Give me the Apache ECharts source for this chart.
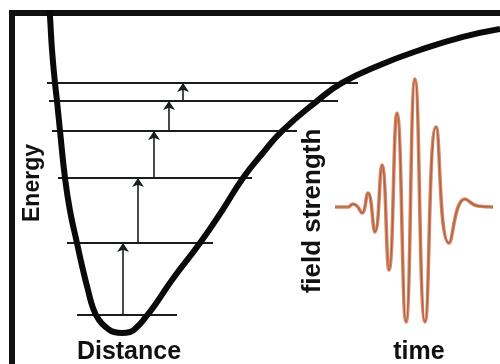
<!DOCTYPE html>
<html>
<head>
<meta charset="utf-8">
<script src="https://cdn.jsdelivr.net/npm/echarts@6/dist/echarts.min.js"></script>
<style>html,body{margin:0;padding:0;background:#fff;}#c{width:500px;height:364px;}</style>
</head>
<body>
<div id="c"></div>
<script>
// Potential energy curve (Distance, Energy)
var potentialDistance = [0.758, 0.779, 0.820, 0.881, 0.922, 0.984, 1.086, 1.189, 1.332, 1.455, 1.557, 1.660, 1.783, 1.947, 2.090, 2.254, 2.418, 2.561, 2.725, 2.930, 3.279, 3.852, 4.303, 4.734, 5.123, 5.533, 6.250, 6.762, 7.541, 8.361, 9.242, 10.0];
var potentialEnergy   = [10.25, 9.875, 8.84, 7.81, 7.24, 6.30, 4.83, 3.80, 2.79, 1.946, 1.319, 0.755, 0.379, 0.128, 0.003, -0.028, 0.003, 0.160, 0.442, 0.849, 1.633, 2.79, 3.80, 4.83, 5.58, 6.30, 7.24, 7.81, 8.37, 8.84, 9.25, 9.50];
// Vibrational levels
var levelEnergy = [0.536, 2.79, 4.83, 6.30, 7.24, 7.81];
var levelStart  = [1.332, 1.127, 0.943, 0.820, 0.758, 0.717];
var levelEnd    = [3.381, 4.119, 4.918, 5.840, 6.680, 7.090];
// Excitation arrows (x position, from level i to level i+1)
var arrowDistance = [2.275, 2.582, 2.910, 3.217, 3.504];
// Laser pulse (time, field strength)
var pulseTime  = [0.294, 1.059, 1.353, 1.588, 1.882, 2.235, 2.647, 3.059, 3.471, 3.941, 4.471, 5.0, 5.588, 6.235, 7.0, 7.941, 8.706, 9.588];
var pulseField = [0, 0, 0.022, 0.007, -0.044, 0.104, -0.185, 0.311, -0.467, 0.696, -0.852, 0.948, -0.852, 0.593, -0.267, 0.059, 0.007, 0];
// Labels
var labelX1 = 'Distance', labelY1 = 'Energy', labelX2 = 'time', labelY2 = 'field strength';

var chart = echarts.init(document.getElementById('c'), null, {renderer: 'canvas'});
var ink = '#111';
var potentialData = potentialDistance.map(function (d, i) { return [d, potentialEnergy[i]]; });
var levelData = levelEnergy.map(function (e, i) { return {coords: [[levelStart[i], e], [levelEnd[i], e]]}; });
var arrowData = arrowDistance.map(function (d, i) { return {coords: [[d, levelEnergy[i]], [d, levelEnergy[i + 1]]]}; });
var pulseData = pulseTime.map(function (t, i) { return [t, pulseField[i]]; });
var font = '"Liberation Sans", Arial, Helvetica, sans-serif';
var hidden = {show: false};

chart.setOption({
  animation: false,
  backgroundColor: '#fff',
  grid: [
    {left: 12, top: 13, right: 0, bottom: 0},
    {left: 330, top: 72, right: 0, bottom: 22}
  ],
  xAxis: [
    {gridIndex: 0, type: 'value', min: 0, max: 10, position: 'top',
     axisLine: {show: true, onZero: false, lineStyle: {color: ink, width: 6, cap: 'square'}},
     axisTick: hidden, axisLabel: hidden, splitLine: hidden},
    {gridIndex: 1, type: 'value', min: 0, max: 10, axisLine: hidden, axisTick: hidden, axisLabel: hidden, splitLine: hidden}
  ],
  yAxis: [
    {gridIndex: 0, type: 'value', min: -1, max: 10, position: 'left',
     axisLine: {show: true, onZero: false, lineStyle: {color: ink, width: 6, cap: 'square'}},
     axisTick: hidden, axisLabel: hidden, splitLine: hidden},
    {gridIndex: 1, type: 'value', min: -1, max: 1, axisLine: hidden, axisTick: hidden, axisLabel: hidden, splitLine: hidden}
  ],
  series: [
    {type: 'lines', coordinateSystem: 'cartesian2d', xAxisIndex: 0, yAxisIndex: 0,
     data: levelData, symbol: 'none', lineStyle: {color: '#1a1d1d', width: 2, opacity: 1}, z: 2},
    {type: 'lines', coordinateSystem: 'cartesian2d', xAxisIndex: 0, yAxisIndex: 0,
     data: arrowData, symbol: ['none', 'arrow'], symbolSize: [7, 9],
     lineStyle: {color: '#1a1d1d', width: 1.6, opacity: 1}, z: 3},
    {type: 'line', xAxisIndex: 0, yAxisIndex: 0, data: potentialData, smooth: 0.5,
     showSymbol: false, symbol: 'none', clip: true, lineStyle: {color: '#0a0a0a', width: 6}, z: 4},
    {type: 'line', xAxisIndex: 1, yAxisIndex: 1, data: pulseData, smooth: 0.5,
     showSymbol: false, symbol: 'none', lineStyle: {color: '#e0845c', width: 3.6}, z: 5},
    {type: 'line', xAxisIndex: 1, yAxisIndex: 1, data: pulseData, smooth: 0.5,
     showSymbol: false, symbol: 'none', lineStyle: {color: '#9a6654', width: 1.2}, z: 6}
  ],
  graphic: [
    {type: 'text', x: 129, y: 352, z: 10, style: {text: labelX1, font: 'bold 25px ' + font, fill: ink, align: 'center', verticalAlign: 'middle'}},
    {type: 'text', x: 419, y: 352, z: 10, style: {text: labelX2, font: 'bold 25px ' + font, fill: ink, align: 'center', verticalAlign: 'middle'}},
    {type: 'text', x: 33, y: 183, rotation: Math.PI / 2, z: 10, style: {text: labelY1, font: 'bold 23px ' + font, fill: ink, align: 'center', verticalAlign: 'middle'}},
    {type: 'text', x: 313, y: 211, rotation: Math.PI / 2, z: 10, style: {text: labelY2, font: 'bold 26px ' + font, fill: ink, align: 'center', verticalAlign: 'middle'}}
  ]
});
</script>
</body>
</html>
